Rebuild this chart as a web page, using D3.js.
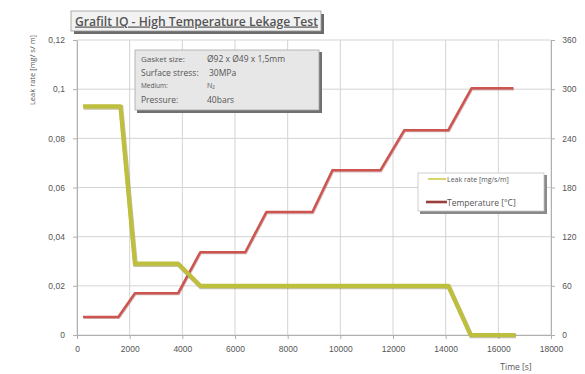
<!DOCTYPE html>
<html><head><meta charset="utf-8">
<script src="https://cdn.jsdelivr.net/npm/d3@7"></script>
<style>
html,body{margin:0;padding:0;background:#fff;}
svg{display:block;font-family:"Open Sans","DejaVu Sans",sans-serif;}
</style></head>
<body><svg id="c" width="585" height="374"></svg>
<script>
// ---- data ----
const timeLeak = [230, 1650, 2200, 3840, 4680, 14100, 14950, 16650];
const leakRate = [0.093, 0.093, 0.029, 0.029, 0.020, 0.020, 0, 0];
const timeTemp = [230, 1570, 2200, 3840, 4680, 6390, 7190, 8940, 9700, 11520, 12430, 14100, 14980, 16570];
const temperature = [22, 22, 51, 51, 101, 101, 150, 150, 201, 201, 250, 250, 301, 301];
const xTicks = [0, 2000, 4000, 6000, 8000, 10000, 12000, 14000, 16000, 18000];
const leakTicks = [0, 0.02, 0.04, 0.06, 0.08, 0.1, 0.12];
const leakTickLabels = ["0", "0,02", "0,04", "0,06", "0,08", "0,1", "0,12"];
const tempTicks = [0, 60, 120, 180, 240, 300, 360];
const infoLabels = ["Gasket size:", "Surface stress:", "Medium:", "Pressure:"];
const infoValues = ["Ø92 x Ø49 x 1,5mm", "30MPa", "N₂", "40bars"];
const seriesNames = ["Leak rate [mg/s/m]", "Temperature [°C]"];

const W = 585, H = 374;
const m = {l: 77, r: 34, t: 40, b: 39};
const svg = d3.select("#c");
const x = d3.scaleLinear().domain([0, 18000]).range([m.l, W - m.r]);
const yL = d3.scaleLinear().domain([0, 0.12]).range([H - m.b, m.t]);
const yR = d3.scaleLinear().domain([0, 360]).range([H - m.b, m.t]);
const grid = "#d4d4d4", axisC = "#b0b0b0", txt = "#555";

// grid
svg.append("g").selectAll("line").data(leakTicks).join("line")
  .attr("x1", m.l).attr("x2", W - m.r).attr("y1", d => yL(d)).attr("y2", d => yL(d))
  .attr("stroke", grid).attr("stroke-width", 1);
svg.append("g").selectAll("line").data(xTicks).join("line")
  .attr("x1", d => x(d)).attr("x2", d => x(d)).attr("y1", m.t).attr("y2", H - m.b)
  .attr("stroke", grid).attr("stroke-width", 1);

// axes
function styleAxis(g){
  g.selectAll("path,line").attr("stroke", axisC);
  g.selectAll("text").attr("fill", txt).attr("font-size", 8.5);
}
svg.append("g").attr("transform", `translate(0,${H - m.b})`)
  .call(d3.axisBottom(x).tickValues(xTicks).tickSize(4).tickSizeOuter(0).tickFormat(d3.format("d")))
  .call(styleAxis).call(g => g.selectAll("text").attr("dy", "1.2em"));
svg.append("g").attr("transform", `translate(${m.l},0)`)
  .call(d3.axisLeft(yL).tickValues(leakTicks).tickSize(4).tickSizeOuter(0)
    .tickFormat((d, i) => leakTickLabels[i]))
  .call(styleAxis).call(g => g.selectAll("text").attr("dx", "-0.6em"));
svg.append("g").attr("transform", `translate(${W - m.r},0)`)
  .call(d3.axisRight(yR).tickValues(tempTicks).tickSize(4).tickSizeOuter(0))
  .call(styleAxis).call(g => g.selectAll("text").attr("dx", "0.5em"));

// axis titles
svg.append("text").attr("transform", "translate(35,70) rotate(-90)")
  .attr("text-anchor", "middle").attr("font-size", 7.5).attr("fill", txt)
  .text("Leak rate [mg/ s/ m]");
svg.append("text").attr("x", 516).attr("y", 370).attr("text-anchor", "middle")
  .attr("font-size", 8.5).attr("fill", txt).text("Time [s]");

// series
const leakData = timeLeak.map((t, i) => [t, leakRate[i]]);
const tempData = timeTemp.map((t, i) => [t, temperature[i]]);
const lineL = d3.line().x(d => x(d[0])).y(d => yL(d[1]));
const lineR = d3.line().x(d => x(d[0])).y(d => yR(d[1]));

svg.append("path").datum(tempData).attr("d", lineR).attr("fill", "none")
  .attr("stroke", "#8a3a38").attr("stroke-width", 2.6).attr("opacity", 0.35)
  .attr("transform", "translate(0.6,0.8)");
svg.append("path").datum(tempData).attr("d", lineR).attr("fill", "none")
  .attr("stroke", "#cc5550").attr("stroke-width", 2.5).attr("stroke-linejoin", "round");

svg.append("path").datum(leakData).attr("d", lineL).attr("fill", "none")
  .attr("stroke", "#77762c").attr("stroke-width", 4.6).attr("opacity", 0.45)
  .attr("transform", "translate(0.6,1)");
svg.append("path").datum(leakData).attr("d", lineL).attr("fill", "none")
  .attr("stroke", "#bfbf3e").attr("stroke-width", 4.2).attr("stroke-linejoin", "round");

// title box
svg.append("rect").attr("x", 74).attr("y", 14).attr("width", 250).attr("height", 20).attr("fill", "#6b6b6b");
svg.append("rect").attr("x", 71).attr("y", 11).attr("width", 250).attr("height", 20)
  .attr("fill", "#f2f2f2").attr("stroke", "#9a9a9a").attr("stroke-width", 0.8);
svg.append("text").attr("x", 75).attr("y", 25.5).attr("font-size", 12).attr("font-weight", 600)
  .attr("fill", "#555").attr("text-decoration", "underline")
  .attr("textLength", 243).attr("lengthAdjust", "spacingAndGlyphs")
  .text("Grafilt IQ  - High Temperature Lekage Test");

// info box
svg.append("rect").attr("x", 137).attr("y", 52).attr("width", 185).attr("height", 61).attr("fill", "#707070");
svg.append("rect").attr("x", 135).attr("y", 50).attr("width", 184).attr("height", 60)
  .attr("fill", "#e7e7e7").attr("stroke", "#a8a8a8").attr("stroke-width", 0.8);
const infoY = [62, 75.5, 88, 103];
const infoSize = [8, 8.5, 6.5, 8.5];
infoLabels.forEach((l, i) => {
  svg.append("text").attr("x", 141).attr("y", infoY[i]).attr("font-size", infoSize[i]).attr("fill", "#555").text(l);
  svg.append("text").attr("x", i === 1 ? 209 : 207).attr("y", infoY[i]).attr("font-size", i === 2 ? 7 : 8.5)
    .attr("fill", "#555").text(infoValues[i]);
});
// legend
svg.append("rect").attr("x", 420).attr("y", 175).attr("width", 127).attr("height", 39).attr("fill", "#8a8a8a");
svg.append("rect").attr("x", 418).attr("y", 173).attr("width", 126).attr("height", 38)
  .attr("fill", "#fff").attr("stroke", "#c4c4c4").attr("stroke-width", 0.8);
svg.append("line").attr("x1", 428).attr("x2", 446).attr("y1", 179).attr("y2", 179)
  .attr("stroke", "#c8c83a").attr("stroke-width", 1.5);
svg.append("text").attr("x", 447).attr("y", 182).attr("font-size", 7).attr("fill", "#555").text(seriesNames[0]);
svg.append("line").attr("x1", 426).attr("x2", 447).attr("y1", 202).attr("y2", 202)
  .attr("stroke", "#9a3f3c").attr("stroke-width", 2.6);
svg.append("text").attr("x", 447).attr("y", 205.5).attr("font-size", 8.5).attr("fill", "#555").text(seriesNames[1]);
</script></body></html>
